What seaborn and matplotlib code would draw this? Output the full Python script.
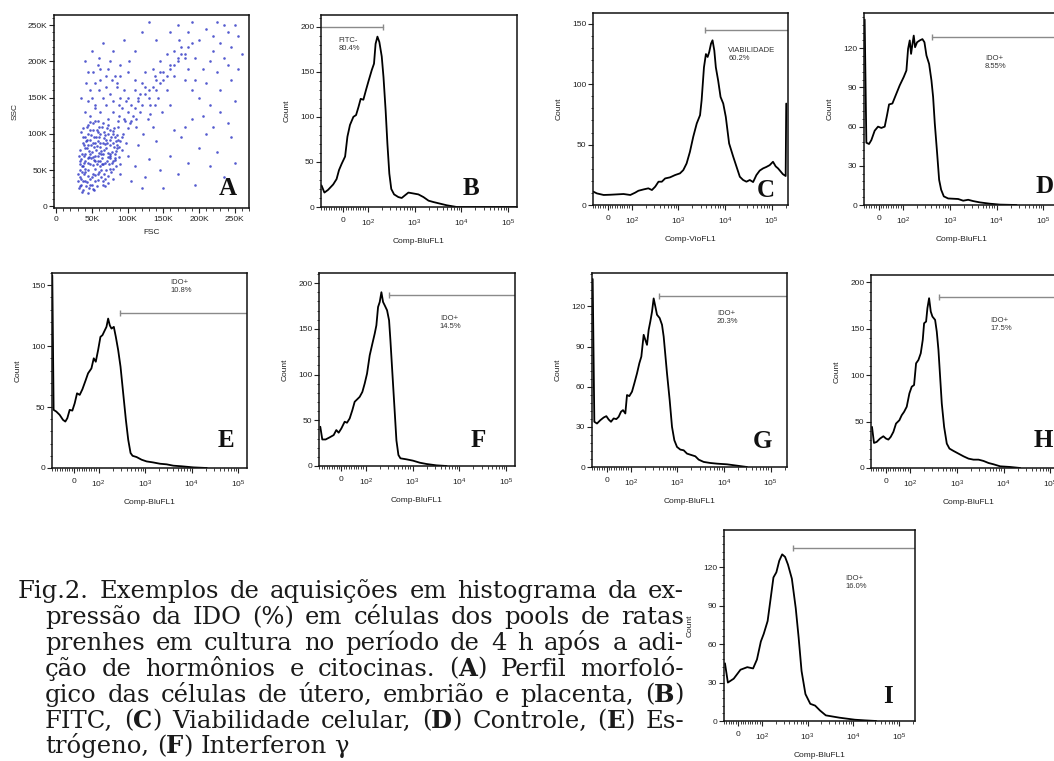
import matplotlib
matplotlib.use("Agg")
import matplotlib.pyplot as plt
import seaborn as sns
from matplotlib.ticker import AutoMinorLocator, FixedLocator

# ---------------------------------------------------------
# Painel A: dispersao FSC x SSC (valores em milhares)
# ---------------------------------------------------------
fsc_k = [32, 35, 38, 34, 36, 40, 42, 45, 38, 41, 44, 47, 50, 48, 52, 55, 40, 43, 46, 50,
         53, 57, 60, 58, 62, 55, 48, 44, 52, 60, 65, 68, 63, 70, 72, 75, 68, 64, 58, 78,
         80, 82, 85, 88, 76, 72, 90, 92, 37, 35, 33, 39, 43, 46, 54, 57, 61, 66, 70, 74,
         49, 56, 59, 51, 45, 41, 67, 77, 84, 86, 94, 98, 62, 55, 48, 70, 80, 88, 96, 100,
         38, 34, 31, 36, 44, 53, 65, 79, 73, 89,
         33, 36, 39, 42, 46, 49, 52, 55, 58, 61, 64, 67, 70, 73, 76, 79, 82, 85, 47, 53,
         57, 60, 63, 66, 69, 72, 75, 78, 81, 84, 41, 44, 37, 34, 50, 54, 58, 62, 66, 71,
         31, 33, 35, 37, 39, 41, 43, 45, 47, 49, 51, 53, 55, 57, 59, 61, 63, 65, 67, 69,
         71, 73, 75, 77, 79, 81, 83, 85, 87, 89, 32, 36, 40, 44, 48, 52, 56, 60, 64, 68,
         72, 76, 80, 84, 88, 92, 35, 39, 43, 47, 51, 55, 59, 63, 67, 71, 75, 79, 83, 87,
         100, 105, 110, 115, 95, 90, 85, 78, 70, 62, 55, 48, 45, 40, 60, 75, 90, 120, 125, 130,
         135, 140, 145, 150, 155, 160, 165, 170, 175, 180, 172, 185, 118, 128, 138, 108, 112, 122, 132, 142,
         148, 155, 160, 102, 110, 95, 80, 65, 50, 120, 140, 130,
         95, 100, 105, 110, 115, 120, 125, 130, 135, 140, 145, 150, 155, 160, 165, 170, 175, 180, 185, 190,
         88, 92, 98, 104, 112, 118, 124, 132, 138, 146,
         40, 45, 50, 55, 60, 65, 70, 75, 80, 85, 42, 52, 62, 72, 82, 35, 58, 90, 100, 110,
         100, 110, 115, 125, 130, 140, 145, 150, 160, 170, 175, 185, 195, 200, 210, 215, 225, 235, 245, 250,
         180, 190, 205, 220, 230, 105, 120, 165, 135, 240,
         190, 195, 200, 205, 210, 215, 220, 225, 230, 235, 240, 245, 250, 255, 200, 210, 225, 185, 195, 215,
         230, 245, 255, 250, 260, 235, 190, 170, 160, 180, 165, 220, 240]
ssc_k = [25, 30, 22, 40, 48, 35, 28, 42, 55, 62, 50, 38, 30, 58, 45, 52, 72, 80, 68, 75,
         64, 58, 48, 70, 82, 88, 92, 100, 105, 95, 72, 60, 40, 50, 68, 85, 98, 110, 118, 75,
         62, 95, 80, 68, 105, 120, 90, 78, 88, 65, 50, 44, 33, 25, 35, 28, 62, 88, 80, 58,
         84, 78, 102, 115, 112, 95, 45, 48, 55, 110, 100, 88, 130, 135, 125, 140, 130, 125, 118, 108,
         108, 78, 35, 20, 18, 22, 30, 38, 32, 45,
         58, 72, 84, 90, 77, 66, 57, 43, 36, 55, 66, 78, 92, 100, 66, 88, 72, 98, 105, 95,
         83, 73, 50, 35, 28, 42, 52, 60, 82, 90, 52, 60, 35, 28, 40, 70, 62, 100, 115, 108,
         45, 62, 38, 95, 70, 48, 110, 85, 30, 98, 68, 82, 62, 105, 44, 88, 76, 58, 102, 38,
         88, 112, 70, 96, 52, 108, 64, 84, 92, 58, 70, 55, 80, 66, 72, 88, 96, 110, 58, 86,
         74, 92, 104, 76, 82, 96, 102, 60, 92, 116, 24, 118, 90, 72, 94, 62, 72, 100, 66, 118,
         150, 140, 160, 145, 160, 150, 165, 175, 180, 190, 170, 160, 185, 200, 205, 200, 195, 170, 185, 160,
         190, 175, 200, 185, 210, 195, 215, 205, 220, 210, 230, 240, 130, 120, 140, 125, 110, 100, 128, 150,
         130, 160, 140, 200, 215, 230, 215, 225, 215, 240, 230, 255,
         120, 130, 118, 135, 150, 140, 155, 150, 165, 160, 170, 175, 180, 190, 195, 200, 210, 205, 220, 225,
         140, 135, 145, 115, 120, 155, 165, 140, 180, 185,
         130, 145, 150, 140, 160, 150, 165, 155, 145, 170, 170, 185, 175, 190, 180, 150, 195, 180, 185, 175,
         70, 55, 85, 40, 65, 90, 50, 25, 70, 45, 95, 60, 30, 80, 100, 55, 75, 40, 95, 60,
         110, 120, 125, 110, 130, 35, 25, 105, 110, 115,
         160, 175, 150, 190, 170, 200, 215, 185, 225, 205, 240, 220, 250, 235, 230, 245, 255, 190, 205, 140,
         160, 175, 190, 145, 210, 250, 255, 250, 240, 175, 180, 235, 195]
scatter_ticks = [0, 50, 100, 150, 200, 250]
scatter_labels = ['0', '50K', '100K', '150K', '200K', '250K']

# ---------------------------------------------------------
# Histogramas B-I: intensidade do canal x Count
# ---------------------------------------------------------
b_x = [-90, -78, -63, -42, -28, -18, -7, 7, 16.5, 27, 41, 52, 62, 71, 82, 93, 103, 122, 136, 147,
       161, 177, 199, 217, 241, 263, 289, 318, 365, 451, 531, 625, 738, 946, 1205, 1549, 1991, 2529,
       3516, 4875, 7962, 153800]
b_count = [24, 16, 19, 25, 31, 41, 48, 56, 78, 91, 100, 102, 111, 120, 119, 130, 139, 152, 159, 181,
           189, 183, 167, 144, 107, 70, 37, 20, 14, 11, 10, 13, 16, 15, 14, 11, 7, 5.5,
           3.7, 1.9, 0, 0]

c_x = [-58, -44, -16, 12, 39, 66, 94, 118, 139, 179, 227, 271, 319, 375, 442, 521, 663, 851, 1084, 1277,
       1504, 1772, 2089, 2483, 2924, 3162, 3548, 3908, 4257, 4603, 5023, 5420, 5916, 6383, 7161, 8054,
       9204, 10440, 12300, 15070, 17740, 20890, 24600, 28970, 34200, 40270, 47420, 55850, 65770, 77450,
       91410, 107600, 123000, 138300, 155200, 175800, 201400, 207000]
c_count = [11, 9.6, 8.3, 8.5, 8.8, 9.1, 8.3, 10.2, 11.8, 12.9, 13.8, 12.4, 15.2, 19.3, 19.3, 22, 22.9, 24.8, 26.2, 28.9,
           34.4, 44, 56.5, 67.5, 74.4, 86.8, 114, 125, 122.6, 126.7, 133.6, 136.4, 128, 114, 103, 89.5,
           84, 73, 51, 40, 31.7, 23.4, 20.7, 19.3, 20.7, 19, 24.8, 28.5, 30.3, 31.5,
           33, 35.8, 32, 30.3, 28, 25.5, 24, 84]

d_x = [-57.3, -50.3, -39.4, -29.8, -16.1, -2.4, 11.3, 25, 34.6, 42.9, 56.6, 70.2, 86.7, 103.9, 118.5,
       128.6, 139.6, 149.1, 159.2, 170, 181.5, 200.4, 228.5, 260.6, 287.7, 317.5, 361.9, 405.9, 440.6,
       478.6, 536.9, 592.3, 653.6, 745.6, 922.6, 1181, 1510, 1932, 2472, 3159, 4385, 7167, 11720, 26590]
d_count = [142, 47.7, 46.7, 49.7, 56.9, 60, 59, 60, 68.8, 77, 77.7, 84, 91.6, 98, 103,
           119.5, 126, 115.7, 123, 129.7, 120.8, 124.6, 126, 127, 124.6, 114.5, 108, 95.4, 82.7,
           62.4, 39.6, 19.3, 11.7, 6.6, 5, 4.8, 4.6, 3.3, 4, 3, 2, 1, 0.3, 0]

e_x = [-90.8, -85.3, -74.2, -60.4, -46.6, -37, -28.7, -19, -8, 1.7, 11.4, 22.4, 33.5, 47.3, 56.9, 70.7,
       80.4, 88.7, 98.3, 110, 121.6, 136.5, 148.2, 161, 174.8, 189.9, 213.2, 235.4, 264.4, 296.9, 338.8,
       386.8, 434.1, 487.4, 538.3, 656.3, 841, 1078, 1476, 2088, 2906, 4045, 6114, 10910, 21130]
e_count = [158, 47.7, 46.3, 43.6, 39.5, 38.1, 40.9, 47.7, 47.1, 53.1, 61.3, 60, 64.6, 72.2, 77.7, 81.7,
           90, 87.2, 96.7, 107.6, 109, 113, 115.8, 122.6, 117, 114.4, 115.8, 107.6, 96.7, 83.1, 61.3,
           39.5, 23.2, 12.3, 10, 9, 6.8, 5.4, 4.6, 3.5, 3, 1.9, 1.4, 0.5, 0]

f_x = [-86.7, -78.5, -64.8, -48.3, -31.8, -20.9, -11.3, -0.3, 13.4, 23, 34, 44.9, 54.5, 64.1, 75.1,
       86.1, 95.7, 106.5, 121.5, 138.6, 155.4, 168.7, 183.2, 198.9, 215.9, 234.3, 254.3, 285.3, 314.8,
       336.3, 371.1, 409.5, 451.9, 498.7, 550.4, 739.6, 1027, 1427, 1981, 3241, 5304]
f_count = [42.9, 29, 29, 31.3, 33.8, 39.3, 36.4, 41, 48.4, 47.3, 52, 61, 70.2, 72.7, 75.6,
           81, 90.2, 101, 121, 133.8, 144.7, 153.8, 173.8, 179.3, 190, 179.3, 175.6, 170.2, 159.3,
           137.5, 101, 64.7, 28, 12, 8.4, 7.3, 5.8, 3.6, 2.2, 0.7, 0]

g_x = [-57.2, -50.4, -39.4, -25.6, -11.8, -0.8, 8.8, 18.4, 29.4, 40.5, 50.1, 59.7, 68, 77.6, 84.5,
       94.1, 106.3, 119.3, 136.2, 152.8, 168.7, 189.3, 205.6, 223.2, 242.4, 263.2, 285.8, 310.3, 337,
       365.9, 417.5, 468.6, 508.8, 552.5, 599.9, 684.6, 768.4, 862.1, 983.5, 1160, 1367, 1613, 2064,
       2434, 2871, 3675, 5110, 7105, 11650, 19100, 31300]
g_count = [140.5, 33.8, 32.5, 35, 37, 38, 35.5, 33.8, 36.3, 35.8, 37.5, 41.3, 42.5, 40, 53.8,
           53, 56.3, 62.5, 70, 77.5, 82.5, 98.8, 95, 91.3, 102.5, 108.8, 116, 126, 120,
           113.8, 111.3, 106.3, 97.5, 83.8, 70, 50, 30, 20, 15, 13, 12.5, 10, 8.8,
           8, 5.5, 3.8, 3, 2.5, 2, 1, 0]

h_x = [-55.9, -47.7, -36.7, -23, -9.3, 1.7, 11.3, 20.9, 31.9, 42.8, 56.6, 66.2, 75.8, 86.7, 97.7,
       109.1, 122.4, 135.1, 151.6, 170, 187.6, 200.4, 221.1, 236.1, 256.3, 278.3, 302, 344.5, 373.9,
       406, 440.7, 478.4, 536.7, 611.9, 698, 850, 1087, 1391, 1779, 2276, 2912, 3725, 4767, 6097,
       8468, 13860, 22670]
h_count = [44.3, 27, 28.1, 31.7, 34.2, 31.7, 30.6, 33.5, 38.9, 47.9, 51.5, 56.9, 60.5, 66, 80.4,
           87.6, 89.4, 112.8, 116.4, 123.6, 138, 156, 157.8, 172.3, 183, 168.6, 163.2, 159.6, 147,
           127.2, 98.4, 69.5, 44.3, 26.3, 20.9, 18.4, 15.5, 12.6, 10.1, 9, 9, 7.6, 5.4, 4,
           1.8, 1.1, 0]

i_x = [-55.9, -43.7, -19.1, 9.5, 38.1, 62.6, 78.9, 95.3, 109.4, 133.1, 154.2, 178.5, 206.8, 239.4,
       277.3, 321.1, 371.8, 452.3, 550, 637, 737.6, 897, 1146, 1464, 1869, 2507, 4973, 10880, 17750, 31920]
i_count = [45, 30, 33, 40, 42, 41, 48, 62, 68, 78, 95, 112, 116, 125,
           130, 128, 122, 111, 88, 65, 39, 21, 13.4, 12, 8.2, 4.4, 2.6, 1, 0.5, 0]

hist_x = [b_x, c_x, d_x, e_x, f_x, g_x, h_x, i_x]
hist_count = [b_count, c_count, d_count, e_count, f_count, g_count, h_count, i_count]
hist_ymax = [213, 159, 147, 160, 211, 145, 208, 149]
hist_yticks = [[0, 50, 100, 150, 200], [0, 50, 100, 150], [0, 30, 60, 90, 120], [0, 50, 100, 150],
               [0, 50, 100, 150, 200], [0, 30, 60, 90, 120], [0, 50, 100, 150, 200], [0, 30, 60, 90, 120]]
hist_channel = ['Comp-BluFL1', 'Comp-VioFL1', 'Comp-BluFL1', 'Comp-BluFL1',
                'Comp-BluFL1', 'Comp-BluFL1', 'Comp-BluFL1', 'Comp-BluFL1']
channel_ticks = [0, 100, 1000, 10000, 100000]
channel_labels = ['0', '$10^2$', '$10^3$', '$10^4$', '$10^5$']

# portoes (gates): B e negativo (termina em gate_edge), os demais comecam em gate_edge
gate_names = ['FITC-\n80.4%', 'VIABILIDADE\n60.2%', 'IDO+\n8.55%', 'IDO+\n10.8%',
              'IDO+\n14.5%', 'IDO+\n20.3%', 'IDO+\n17.5%', 'IDO+\n16.0%']
gate_edge = [216, 3724, 426, 287, 310, 411, 420, 475]
gate_level = [200, 145, 129, 127, 187, 128, 184, 135]
gate_text_x = [-21, 11750, 5610, 3428, 3819, 7105, 5173, 6670]
gate_text_y = [189, 131, 114.5, 155, 165, 117.5, 163, 114]

letters = ['A', 'B', 'C', 'D', 'E', 'F', 'G', 'H', 'I']

caption_lines = [
    "Fig.2. Exemplos de aquisições em histograma da ex-",
    "pressão da IDO (%) em células dos pools de ratas",
    "prenhes em cultura no período de 4 h após a adi-",
    "ção de hormônios e citocinas. (**A**) Perfil morfoló-",
    "gico das células de útero, embrião e placenta, (**B**)",
    "FITC, (**C**) Viabilidade celular, (**D**) Controle, (**E**) Es-",
    "trógeno, (**F**) Interferon γ",
]

# ---------------------------------------------------------
# Estilo
# ---------------------------------------------------------
sns.set_theme(style="ticks")
plt.rcParams['font.family'] = ['Liberation Sans', 'DejaVu Sans']
plt.rcParams['mathtext.fontset'] = 'custom'
plt.rcParams['mathtext.rm'] = 'Liberation Sans'
plt.rcParams['mathtext.default'] = 'regular'

W, H = 1054, 761
fig = plt.figure(figsize=(W / 100, H / 100), dpi=100)
fig.patch.set_facecolor('white')


def place(left, top, right, bottom):
    return fig.add_axes([left / W, 1 - bottom / H, (right - left) / W, (bottom - top) / H])


def style_axes(ax):
    for sp in ax.spines.values():
        sp.set_linewidth(1.1)
        sp.set_color('#111111')
    ax.tick_params(which='major', direction='out', length=3.5, width=0.8,
                   labelsize=6, pad=1.2, colors='#222222')
    ax.tick_params(which='minor', direction='out', length=1.8, width=0.6, colors='#222222')
    ax.set_facecolor('white')


def set_labels(ax, xlabel, ylabel, w_px, h_px, xoff, yoff):
    ax.set_xlabel(xlabel, fontsize=6, color='#222222')
    ax.set_ylabel(ylabel, fontsize=6, color='#222222')
    ax.xaxis.set_label_coords(0.5, -(xoff - 4) / h_px)
    ax.yaxis.set_label_coords(-(yoff - 4) / w_px, 0.5)


# ---------------------------------------------------------
# Painel A
# ---------------------------------------------------------
boxA = (54, 15, 249, 208)
axA = place(*boxA)
sns.scatterplot(x=fsc_k, y=ssc_k, ax=axA, s=3.5, color='#2a32c4', linewidth=0, alpha=0.8)
axA.set_xlim(-3, 270)
axA.set_ylim(-2.3, 264)
axA.set_xticks(scatter_ticks, labels=scatter_labels)
axA.set_yticks(scatter_ticks, labels=scatter_labels)
axA.xaxis.set_minor_locator(AutoMinorLocator(5))
axA.yaxis.set_minor_locator(AutoMinorLocator(5))
style_axes(axA)
axA.tick_params(axis='x', which='major', pad=2)
set_labels(axA, 'FSC', 'SSC', boxA[2] - boxA[0], boxA[3] - boxA[1], 25, 39)

# ---------------------------------------------------------
# Paineis B-I
# ---------------------------------------------------------
boxes = [(321, 15, 517, 207), (593, 13, 788, 205), (864, 13, 1060, 205),
         (52, 273, 247, 468), (319, 273, 515, 466), (592, 273, 787, 467),
         (871, 275, 1067, 468), (724, 530, 915, 721)]
xlims = [(-92, 154000), (-60, 226000), (-60, 226000), (-92, 154000),
         (-92, 154000), (-60, 226000), (-60, 226000), (-60, 226000)]
x_minor = [v for v in range(-90, 100, 10) if v != 0] + \
          [k * 10 ** d for d in (2, 3, 4, 5) for k in range(2, 10)]

for n in range(8):
    box = boxes[n]
    ax = place(*box)
    sns.lineplot(x=hist_x[n], y=hist_count[n], ax=ax, color='black', linewidth=1.3,
                 sort=False, estimator=None)
    ax.set_xscale('symlog', linthresh=100, linscale=0.468)
    ax.set_xlim(*xlims[n])
    ax.set_ylim(0, hist_ymax[n])
    ax.set_xticks(channel_ticks, labels=channel_labels)
    ax.xaxis.set_minor_locator(FixedLocator(x_minor))
    ax.set_yticks(hist_yticks[n])
    ax.yaxis.set_minor_locator(AutoMinorLocator(5))
    style_axes(ax)
    ax.tick_params(axis='x', which='major', pad=4)

    # gate
    gcol = '#8a8a8a'
    if n == 0:
        ax.plot([xlims[n][0], gate_edge[n]], [gate_level[n]] * 2, color=gcol, lw=1.0)
    else:
        ax.plot([gate_edge[n], xlims[n][1]], [gate_level[n]] * 2, color=gcol, lw=1.0)
    ax.plot([gate_edge[n]], [gate_level[n]], marker='|', ms=5, mew=1.0, color=gcol)
    ax.text(gate_text_x[n], gate_text_y[n], gate_names[n], fontsize=5.5, ha='left', va='top',
            linespacing=1.2, color='#333333')

    set_labels(ax, hist_channel[n], 'Count', box[2] - box[0], box[3] - box[1], 35, 34)

# letras dos paineis
letter_pos = [(228, 195), (471, 195), (766, 197), (1045, 193), (226, 447),
              (478, 447), (762, 448), (1043, 447), (888, 703)]
for let, (cx, cy) in zip(letters, letter_pos):
    fig.text(cx / W, 1 - cy / H, let, fontsize=18, fontweight='bold', family='Liberation Serif',
             ha='center', va='baseline', color='#111111')

# ---------------------------------------------------------
# Legenda (texto justificado)
# ---------------------------------------------------------
CAP_FONT = 'DejaVu Serif'
CAP_SIZE = 17.5
CAP_RIGHT = 684
renderer = fig.canvas.get_renderer()


def run_width(text, bold):
    t = fig.text(0, 0, text, fontsize=CAP_SIZE, family=CAP_FONT,
                 fontweight='bold' if bold else 'normal')
    w = t.get_window_extent(renderer=renderer).width
    t.remove()
    return w


space_w = run_width('a a', False) - run_width('aa', False)
for i, line in enumerate(caption_lines):
    x_left = 18 if i == 0 else 45
    base = 598 + i * 25.9
    words = [[(p, k % 2 == 1) for k, p in enumerate(w.split('**')) if p] for w in line.split(' ')]
    widths = [sum(run_width(t, b) for t, b in w) for w in words]
    if i < len(caption_lines) - 1:
        gap = (CAP_RIGHT - x_left - sum(widths)) / (len(words) - 1)
    else:
        gap = space_w
    x = x_left
    for w, wd in zip(words, widths):
        xx = x
        for t, b in w:
            fig.text(xx / W, 1 - base / H, t, fontsize=CAP_SIZE, family=CAP_FONT,
                     fontweight='bold' if b else 'normal', ha='left', va='baseline',
                     color='#1a1a1a')
            xx += run_width(t, b)
        x += wd + gap

fig.savefig('out.png', dpi=100, facecolor='white')
